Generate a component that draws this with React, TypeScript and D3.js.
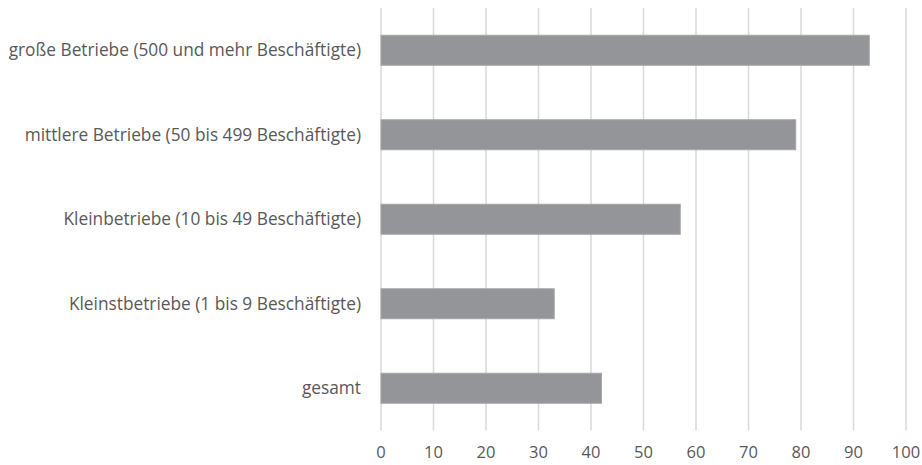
import React from "react";
import * as d3 from "d3";

const categories = [
  "große Betriebe (500 und mehr Beschäftigte)",
  "mittlere Betriebe (50 bis 499 Beschäftigte)",
  "Kleinbetriebe (10 bis 49 Beschäftigte)",
  "Kleinstbetriebe (1 bis 9 Beschäftigte)",
  "gesamt",
];
const values = [93, 79, 57, 33, 42];
const ticks = [0, 10, 20, 30, 40, 50, 60, 70, 80, 90, 100];

export default function App() {
  const W = 922, H = 465;
  const x = d3.scaleLinear().domain([0, 100]).range([381, 906]);
  const y = d3.scaleBand().domain(categories).range([8, 430.5]).paddingInner(0.645).paddingOuter(0.3225);
  const font = "Open Sans, sans-serif";
  return (
    <svg width={W} height={H} style={{ position: "absolute", left: 0, top: 0 }}>
      <rect width={W} height={H} fill="#fff" />
      {ticks.map((t) => (
        <line key={t} x1={x(t)} x2={x(t)} y1={8} y2={430.5} stroke="#d9d9d9" strokeWidth={1.5} />
      ))}
      {categories.map((c, i) => (
        <rect key={c} x={x(0)} y={y(c)} width={x(values[i]) - x(0)} height={y.bandwidth()} fill="#939598" stroke="#a6a6a8" strokeWidth={1} />
      ))}
      {categories.map((c) => (
        <text key={c} x={361} y={(y(c) as number) + y.bandwidth() / 2} dy="0.35em" textAnchor="end" fontFamily={font} fontSize={17.3} fill="#595959">
          {c}
        </text>
      ))}
      {ticks.map((t) => (
        <text key={t} x={x(t)} y={452} dy="0.35em" textAnchor="middle" fontFamily={font} fontSize={16.5} fill="#595959">
          {t}
        </text>
      ))}
    </svg>
  );
}
